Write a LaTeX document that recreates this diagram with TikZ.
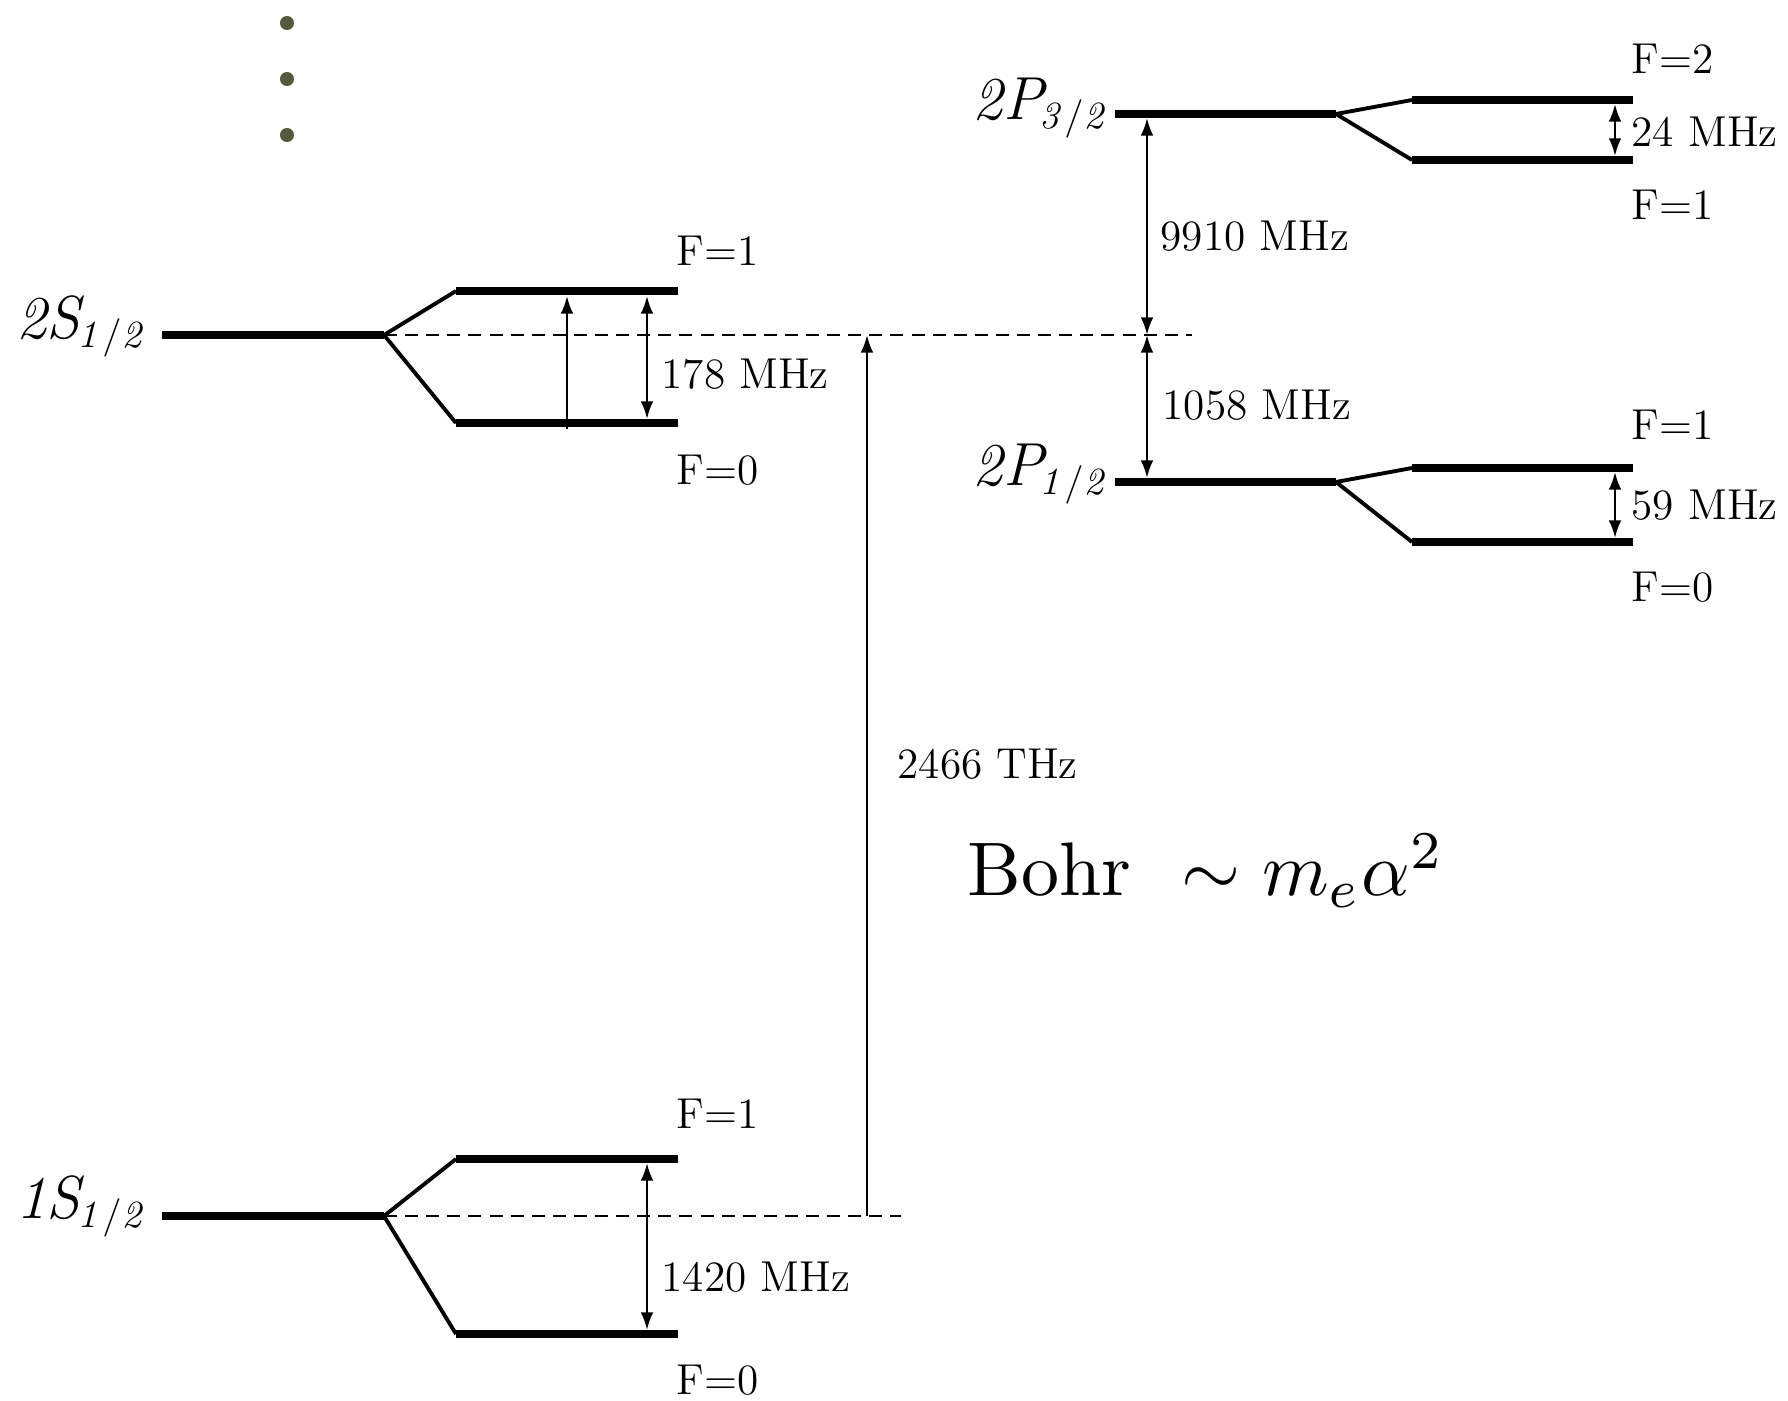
\documentclass[tikz,border=0pt]{standalone}
\usetikzlibrary{arrows.meta, positioning}
\definecolor{dotolive}{RGB}{88,88,62}

\begin{document}
\begin{tikzpicture}[x=0.01cm, y=-0.01cm,
  level/.style={line width=2.3pt},
  split/.style={line width=1.1pt},
  gap/.style={{Latex[length=5pt,width=3.6pt]}-{Latex[length=5pt,width=3.6pt]}, line width=0.7pt},
  jump/.style={-{Latex[length=5pt,width=3.6pt]}, line width=0.7pt},
  guide/.style={dash pattern=on 3.7pt off 2.3pt, line width=0.5pt},
  lab/.style={font=\fontsize{12.3}{14}\selectfont, inner sep=0pt, anchor=west},
  term/.style={font=\fontsize{16}{19}\selectfont, inner sep=0pt, anchor=east}]
\useasboundingbox (0,0) rectangle (1788,1401);

% more levels above
\foreach \y in {23,79,135}
  \fill[dotolive] (287,\y) circle[radius=2pt];

% 2S_{1/2}
\node[term] (l2s) at (149,327) {$\mathit{2S}\!_{\mathit{1/2}}$};
\draw[level] (162,335) -- (384,335) coordinate (k2s);
\draw[split] (k2s) -- (456,291) coordinate (u2s);
\draw[split] (k2s) -- (456,423) coordinate (d2s);
\draw[level] (u2s) -- (678,291);
\draw[level] (d2s) -- (678,423);
\node[lab] (f2s1) at (676,251) {F=1};
\node[lab] (f2s0) at (676,470) {F=0};
\draw[guide] (k2s) -- (1192,335) coordinate (e2s);
\coordinate (a2s) at (567,296);
\coordinate (b2s) at (567,429);
\draw[jump] (b2s) -- (a2s);
\coordinate (p2s) at (647,296);
\coordinate (q2s) at (647,419);
\draw[gap] (p2s) -- (q2s);
\node[lab] (h2s) at (661,374) {178 MHz};

% 1S_{1/2}
\node[term] (l1s) at (149,1207) {$\mathit{1S}\!_{\mathit{1/2}}$};
\draw[level] (162,1216) -- (384,1216) coordinate (k1s);
\draw[split] (k1s) -- (456,1159) coordinate (u1s);
\draw[split] (k1s) -- (456,1334) coordinate (d1s);
\draw[level] (u1s) -- (678,1159);
\draw[level] (d1s) -- (678,1334);
\node[lab] (f1s1) at (676,1114) {F=1};
\node[lab] (f1s0) at (676,1380) {F=0};
\draw[guide] (k1s) -- (901,1216);
\coordinate (p1s) at (647,1163);
\coordinate (q1s) at (647,1330);
\draw[gap] (p1s) -- (q1s);
\node[lab] (h1s) at (661,1277) {1420 MHz};

% 1S -> 2S
\coordinate (t1s) at (867,1216);
\coordinate (t2s) at (867,335);
\draw[jump] (t1s) -- (t2s);
\node[lab] (thz) at (897,764) {2466 THz};
\node[font=\fontsize{10}{12}\selectfont, scale=2.16, inner sep=0pt, anchor=base west] (bohr) at (966,896)
  {Bohr~ $\sim m_e\alpha^2$};

% 2P_{3/2}
\node[term] (l2p3) at (1111,108) {$\mathit{2P}\!_{\mathit{3/2}}$};
\draw[level] (1115,114) -- (1336,114) coordinate (k2p3);
\draw[split] (k2p3) -- (1412,100) coordinate (u2p3);
\draw[split] (k2p3) -- (1412,160) coordinate (d2p3);
\draw[level] (u2p3) -- (1633,100);
\draw[level] (d2p3) -- (1633,160);
\node[lab] (f2p32) at (1631,59) {F=2};
\node[lab] (f2p31) at (1631,205) {F=1};
\coordinate (p2p3) at (1615,104);
\coordinate (q2p3) at (1615,156);
\draw[gap] (p2p3) -- (q2p3);
\node[lab] (h2p3) at (1631,132) {24 MHz};

% 2P_{1/2}
\node[term] (l2p1) at (1111,474) {$\mathit{2P}\!_{\mathit{1/2}}$};
\draw[level] (1115,482) -- (1336,482) coordinate (k2p1);
\draw[split] (k2p1) -- (1412,468) coordinate (u2p1);
\draw[split] (k2p1) -- (1412,542) coordinate (d2p1);
\draw[level] (u2p1) -- (1633,468);
\draw[level] (d2p1) -- (1633,542);
\node[lab] (f2p11) at (1631,425) {F=1};
\node[lab] (f2p10) at (1631,587) {F=0};
\coordinate (p2p1) at (1615,472);
\coordinate (q2p1) at (1615,538);
\draw[gap] (p2p1) -- (q2p1);
\node[lab] (h2p1) at (1631,505) {59 MHz};

% fine structure and Lamb shift
\coordinate (fs3) at (1147,118);
\coordinate (fs0) at (1147,335);
\coordinate (fs1) at (1147,478);
\draw[gap] (fs3) -- (fs0);
\draw[gap] (fs0) -- (fs1);
\node[lab] (h9910) at (1160,236) {9910 MHz};
\node[lab] (h1058) at (1162,405) {1058 MHz};
\end{tikzpicture}
\end{document}
